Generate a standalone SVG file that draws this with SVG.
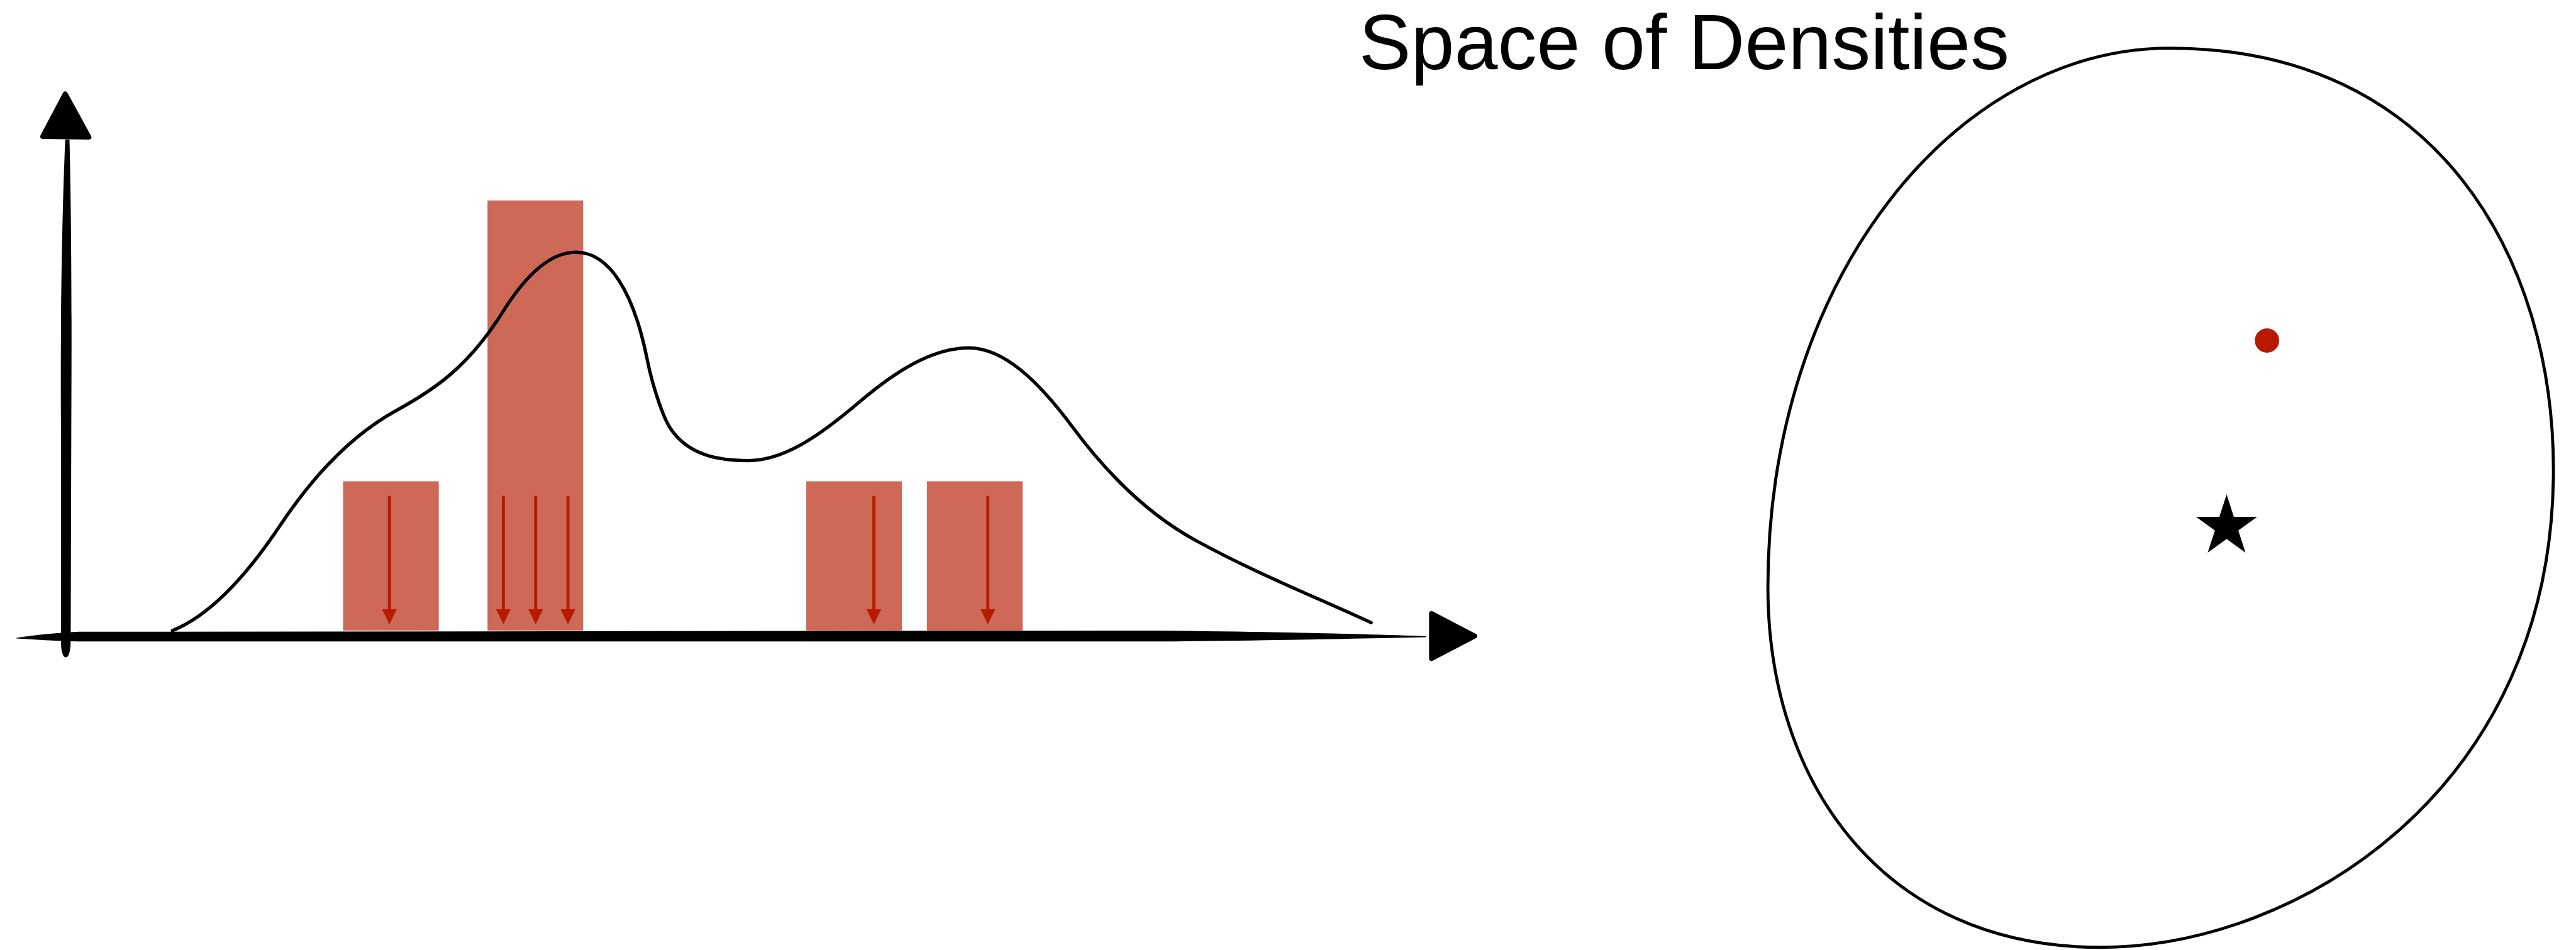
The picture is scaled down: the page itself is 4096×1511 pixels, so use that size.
<svg xmlns="http://www.w3.org/2000/svg" width="4096" height="1511" viewBox="0 0 4096 1511">
  <style>
    .bar { fill: #ce6857; }
    .ink { fill: #000; }
    .head { fill: #000; stroke: #000; stroke-width: 8; stroke-linejoin: round; }
    .curve { fill: none; stroke: #000; stroke-width: 5.5; stroke-linecap: round; stroke-linejoin: round; }
    .blob { fill: none; stroke: #000; stroke-width: 5; }
    .pull { stroke: #b71a00; stroke-width: 5; fill: none; }
    .title { font-family: "Liberation Sans", Arial, sans-serif; font-size: 128px; fill: #000; }
  </style>
  <defs>
    <marker id="redHead" markerUnits="userSpaceOnUse" viewBox="0 0 25 24" markerWidth="25" markerHeight="24" refX="0" refY="12" orient="auto">
      <path d="M0,0 L25,12 L0,24 Z" fill="#b71a00"/>
    </marker>
  </defs>
  <rect width="4096" height="1511" fill="#fff"/>
  <g transform="scale(0.969)">
    <g id="histogram">
      <rect class="bar" x="563" y="790" width="157" height="245"/>
      <rect class="bar" x="800" y="329" width="157" height="706"/>
      <rect class="bar" x="1323" y="790" width="157" height="245"/>
      <rect class="bar" x="1521" y="790" width="157" height="245"/>
    </g>
    <g id="density-curve">
      <path class="curve" d="M283,1035 C342,1011.4 401,950.5 460,862 C523.3,767 586.7,708.8 650,674 C708.3,641.9 766.7,605.3 825,512 C865,448 905,414 945,414 C1000,414 1040,480 1062,590 C1070,630 1087,683.5 1100,703 C1130,748 1180,756 1228,756 C1288.7,756 1349.3,711.6 1410,660 C1470,609 1530,571 1590,571 C1646.7,571 1703.3,624.5 1760,701 C1827.3,791.9 1894.7,850 1962,887 C2058,939.8 2154,977.8 2250,1022"/>
    </g>
    <g id="axes">
      <path class="ink" d="M27,1047 C60,1042 90,1039 130,1037 L1900,1035 C2100,1037 2250,1041 2340,1044 L2340,1046 C2250,1048 2100,1051 1900,1053 L130,1053 C90,1052 60,1050 27,1048 Z"/>
      <path class="ink" d="M107,229 L114,229 C117,350 118,500 117,700 L116,1050 C116,1072 112,1079 108,1079 C104,1079 100,1072 100,1050 L100,700 C99,500 102,350 107,229 Z"/>
      <path class="head" d="M107,154 L146,225 L70,224 Z"/>
      <path class="head" d="M2349,1007 L2420,1044 L2349,1081 Z"/>
    </g>
    <g id="connectors">
      <line class="pull" x1="639" y1="814" x2="639" y2="1000" marker-end="url(#redHead)"/>
      <line class="pull" x1="826" y1="814" x2="826" y2="1000" marker-end="url(#redHead)"/>
      <line class="pull" x1="879" y1="814" x2="879" y2="1000" marker-end="url(#redHead)"/>
      <line class="pull" x1="932" y1="814" x2="932" y2="1000" marker-end="url(#redHead)"/>
      <line class="pull" x1="1434" y1="814" x2="1434" y2="1000" marker-end="url(#redHead)"/>
      <line class="pull" x1="1621" y1="814" x2="1621" y2="1000" marker-end="url(#redHead)"/>
    </g>
    <g id="space-of-densities">
      <text class="title" x="2230" y="113">Space of Densities</text>
      <path class="blob" d="M3560,79 C4000,79 4190,424 4190,771 C4190,1296 3771,1555 3446,1555 C3090,1555 2901,1285 2901,964 C2901,453 3212,79 3560,79 Z"/>
    </g>
    <g id="estimate-dot">
      <circle cx="3720" cy="559" r="20" fill="#b71a00"/>
    </g>
    <g id="true-density-star">
      <polygon class="ink" points="3653.7,811.7 3665.6,848.2 3703.9,848.2 3672.9,870.7 3684.7,907.2 3653.7,884.7 3622.7,907.2 3634.5,870.7 3603.5,848.2 3641.8,848.2"/>
    </g>
  </g>
</svg>
